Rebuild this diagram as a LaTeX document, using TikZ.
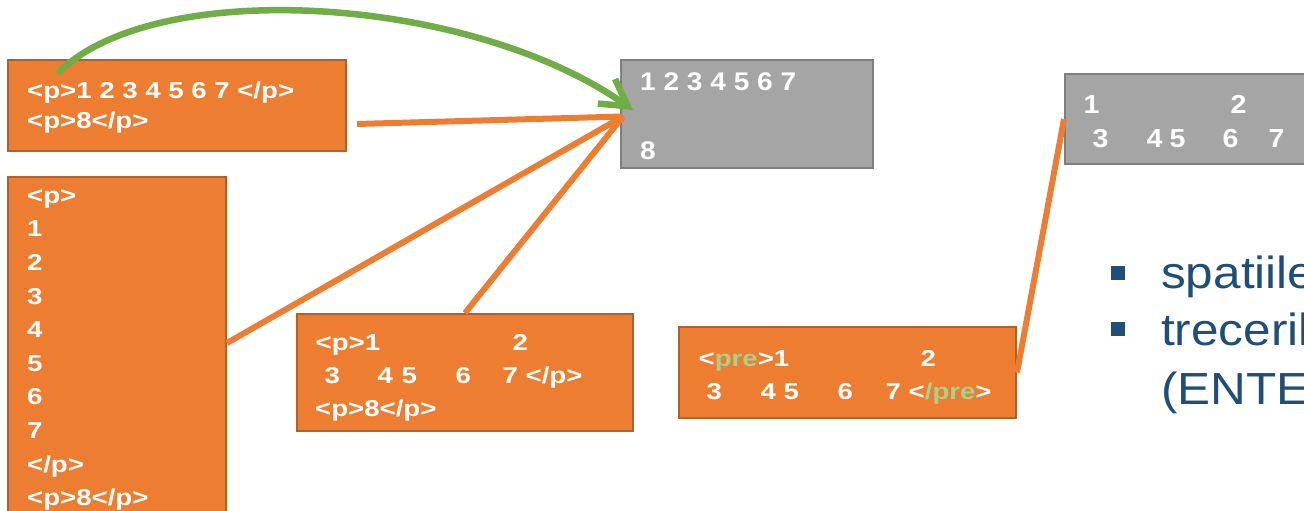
\documentclass[tikz,border=0pt]{standalone}
\usepackage{fontspec}
\setmainfont{Liberation Sans}
\newfontfamily\boxfont[FakeStretch=1.2]{Liberation Sans}
\newfontfamily\grayfont[FakeStretch=1.1]{Liberation Sans}
\newfontfamily\bulfont[FakeStretch=1.1]{Liberation Sans}
\usetikzlibrary{arrows.meta}
\definecolor{ofill}{HTML}{ED7D31}
\definecolor{odraw}{HTML}{B0602A}
\definecolor{gfill}{HTML}{A5A5A5}
\definecolor{gdraw}{HTML}{7F7F7F}
\definecolor{gline}{HTML}{70AD47}
\definecolor{precol}{HTML}{A9D18E}
\definecolor{bulcol}{HTML}{1F4E79}
\newcommand\tabat[2]{\makebox[0pt][l]{\hspace*{#1pt}#2}}
\begin{document}
\begin{tikzpicture}[x=1pt,y=-1pt,
  obox/.style={draw=odraw,fill=ofill,line width=2pt,inner sep=0pt},
  gbox/.style={draw=gdraw,fill=gfill,line width=2pt,inner sep=0pt},
  txt/.style={anchor=base west,inner sep=0pt,text=white,font=\boxfont\bfseries\fontsize{23}{28}\selectfont},
  gtxt/.style={anchor=base west,inner sep=0pt,text=white,font=\grayfont\bfseries\fontsize{25.5}{30}\selectfont},
  ctxt/.style={anchor=base west,inner sep=0pt,text=white,font=\grayfont\bfseries\fontsize{26}{30}\selectfont},
  btxt/.style={anchor=base west,inner sep=0pt,text=bulcol,font=\bulfont\fontsize{45}{54}\selectfont},
  bsq/.style={fill=bulcol,inner sep=0pt,minimum size=14pt},
  oline/.style={draw=ofill,line width=6pt},
  garrow/.style={draw=gline,line width=6.5pt,-{Straight Barb[length=26pt,width=30pt]}}
]
\useasboundingbox (0,0) rectangle (1304,511);
\fill[white] (0,0) rectangle (1304,511);
\begin{scope}
\clip (0,0) rectangle (1304,511);
% boxes
\node[obox,minimum width=338pt,minimum height=91pt] (A) at (177,105.5) {};
\node[gbox,minimum width=252pt,minimum height=108pt] (B) at (747,114) {};
\node[gbox,minimum width=270pt,minimum height=90pt] (C) at (1200,119) {};
\node[obox,minimum width=218pt,minimum height=368pt] (D) at (117,361) {};
\node[obox,minimum width=336pt,minimum height=117pt] (E) at (465,372.5) {};
\node[obox,minimum width=337pt,minimum height=91pt] (F) at (847.5,372.5) {};
% box A text
\node[txt] (a1) at (27,99) {<p>1 2 3 4 5 6 7 </p>};
\node[txt] (a2) at (27,128.3) {<p>8</p>};
% box B text
\node[gtxt] (b1) at (640,91) {1 2 3 4 5 6 7};
\node[gtxt] (b2) at (640,159.3) {8};
% box C text
\node[ctxt] (c1) at (1083,113.3) {\tabat{0}{1}\tabat{147}{2}};
\node[ctxt] (c2) at (1083,147.3) {\tabat{9}{3}\tabat{63}{4}\tabat{86}{5}\tabat{139}{6}\tabat{185}{7}};
% box D text
\node[txt] (d0) at (27,203.3) {<p>};
\node[txt] (d1) at (27,236.9) {1};
\node[txt] (d2) at (27,270.5) {2};
\node[txt] (d3) at (27,304.1) {3};
\node[txt] (d4) at (27,337.7) {4};
\node[txt] (d5) at (27,371.3) {5};
\node[txt] (d6) at (27,404.9) {6};
\node[txt] (d7) at (27,438.5) {7};
\node[txt] (d8) at (27,472.1) {</p>};
\node[txt] (d9) at (27,505.7) {<p>8</p>};
% box E text
\node[txt] (e1) at (315,350) {\tabat{0}{<p>1}\tabat{197}{2}};
\node[txt] (e2) at (315,383.3) {\tabat{9}{3}\tabat{62}{4}\tabat{86}{5}\tabat{140}{6}\tabat{187}{7 </p>}};
\node[txt] (e3) at (315,416.5) {<p>8</p>};
% box F text
\node[txt] (f1) at (698,366.7) {\tabat{0}{<\textcolor{precol}{pre}>1}\tabat{222}{2}};
\node[txt] (f2) at (698,399.3) {\tabat{8}{3}\tabat{62}{4}\tabat{85}{5}\tabat{139}{6}\tabat{187}{7 <\textcolor{precol}{/pre}>}};
% bullets
\node[bsq] (s1) at (1118,272.5) {};
\node[bsq] (s2) at (1118,329) {};
\node[btxt] (t1) at (1161,288.5) {spatiile};
\node[btxt] (t2) at (1161,345.5) {treceril};
\node[btxt] (t3) at (1161,404) {(ENTE};
% connectors
\coordinate (a-out) at (357,124);
\coordinate (b-in) at (623,116.5);
\coordinate (d-out) at (227,343);
\coordinate (g-start) at (58,73);
\coordinate (g-end) at (633,110);
\draw[oline] (a-out) -- (b-in);
\draw[oline] (d-out) -- (b-in);
\draw[oline] (E.north) -- (b-in);
\draw[oline] (F.east) -- (C.west);
\draw[garrow] (g-start) .. controls +(97,-97) and +(-163,-115) .. (g-end);
\end{scope}
\end{tikzpicture}
\end{document}
